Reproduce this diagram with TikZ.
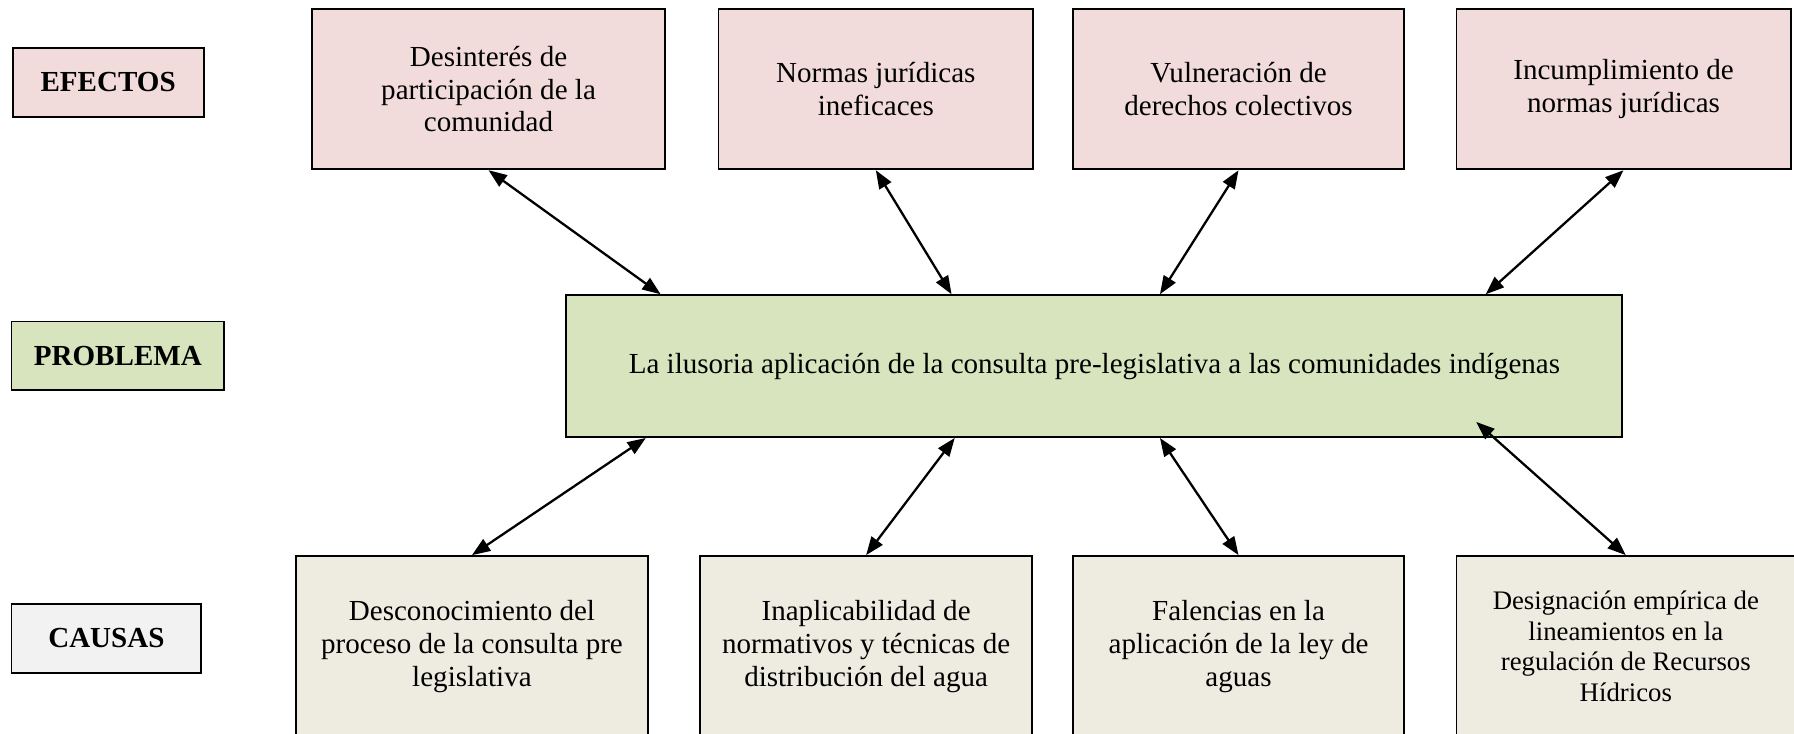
\documentclass[tikz,border=0pt]{standalone}
\usepackage{fontspec}
\setmainfont{Liberation Serif}
\usepackage{tikz}
\usetikzlibrary{arrows.meta,calc}

\definecolor{efectofill}{HTML}{F2DCDB}
\definecolor{problemafill}{HTML}{D7E4BD}
\definecolor{causafill}{HTML}{EEECE1}
\definecolor{rotulofill}{HTML}{F2F2F2}

\begin{document}
\begin{tikzpicture}[x=0.5pt, y=-0.5pt,
	caja/.style={draw, line width=0.8pt, align=center, inner sep=2pt, font=\fontsize{12.7pt}{14.3pt}\selectfont},
	efecto/.style={caja, fill=efectofill, minimum height=70pt},
	causa/.style={caja, fill=causafill, minimum height=79pt},
	rotulo/.style={caja, minimum height=30pt, font=\fontsize{12.7pt}{14.3pt}\selectfont\bfseries},
	flecha/.style={{Triangle[length=8pt,width=6pt]}-{Triangle[length=8pt,width=6pt]}, line width=1pt}]
	\useasboundingbox (0,0) rectangle (1568,641);
	% rotulos de la izquierda
	\node[rotulo, fill=efectofill, minimum width=83.5pt] (refectos) at (94.5,72) {EFECTOS};
	\node[rotulo, fill=problemafill, minimum width=93pt] (rproblema) at (103,311) {PROBLEMA};
	\node[rotulo, fill=rotulofill, minimum width=83pt] (rcausas) at (93,558) {CAUSAS};
	% efectos
	\node[efecto, minimum width=154pt] (e1) at (427,78) {Desinterés de\\participación de la\\comunidad};
	\node[efecto, minimum width=137.5pt] (e2) at (765.5,78) {Normas jurídicas\\ineficaces};
	\node[efecto, minimum width=144.5pt] (e3) at (1082.5,78) {Vulneración de\\derechos colectivos};
	\node[efecto, minimum width=146pt] (e4) at (1419,78) {Incumplimiento de\\normas jurídicas};
	% problema
	\node[caja, fill=problemafill, minimum width=461.5pt, minimum height=62pt] (p) at (956.5,320) {La ilusoria aplicación de la consulta pre-legislativa a las comunidades indígenas};
	% causas
	\node[causa, minimum width=153.5pt] (c1) at (412.5,565) {Desconocimiento del\\proceso de la consulta pre\\legislativa};
	\node[causa, minimum width=145pt] (c2) at (757,565) {Inaplicabilidad de\\normativos y técnicas de\\distribución del agua};
	\node[causa, minimum width=144.5pt] (c3) at (1082.5,565) {Falencias en la\\aplicación de la ley de\\aguas};
	\node[causa, minimum width=148pt, font=\fontsize{11.7pt}{13.35pt}\selectfont] (c4) at (1421,565) {Designación empírica de\\lineamientos en la\\regulación de Recursos\\Hídricos};
	% flechas
	\draw[flecha] (e1.south) -- ($(p.north west)!0.09!(p.north east)$);
	\draw[flecha] (e2.south) -- ($(p.north west)!0.365!(p.north east)$);
	\draw[flecha] (e3.south) -- ($(p.north west)!0.562!(p.north east)$);
	\draw[flecha] (e4.south) -- ($(p.north west)!0.87!(p.north east)$);
	\coordinate (pc4) at ($(p.south west)!0.861!(p.south east)+(0,-14)$);
	\draw[flecha] ($(p.south west)!0.076!(p.south east)$) -- (c1.north);
	\draw[flecha] ($(p.south west)!0.368!(p.south east)$) -- (c2.north);
	\draw[flecha] ($(p.south west)!0.562!(p.south east)$) -- (c3.north);
	\draw[flecha] (pc4) -- (c4.north);
\end{tikzpicture}
\end{document}
